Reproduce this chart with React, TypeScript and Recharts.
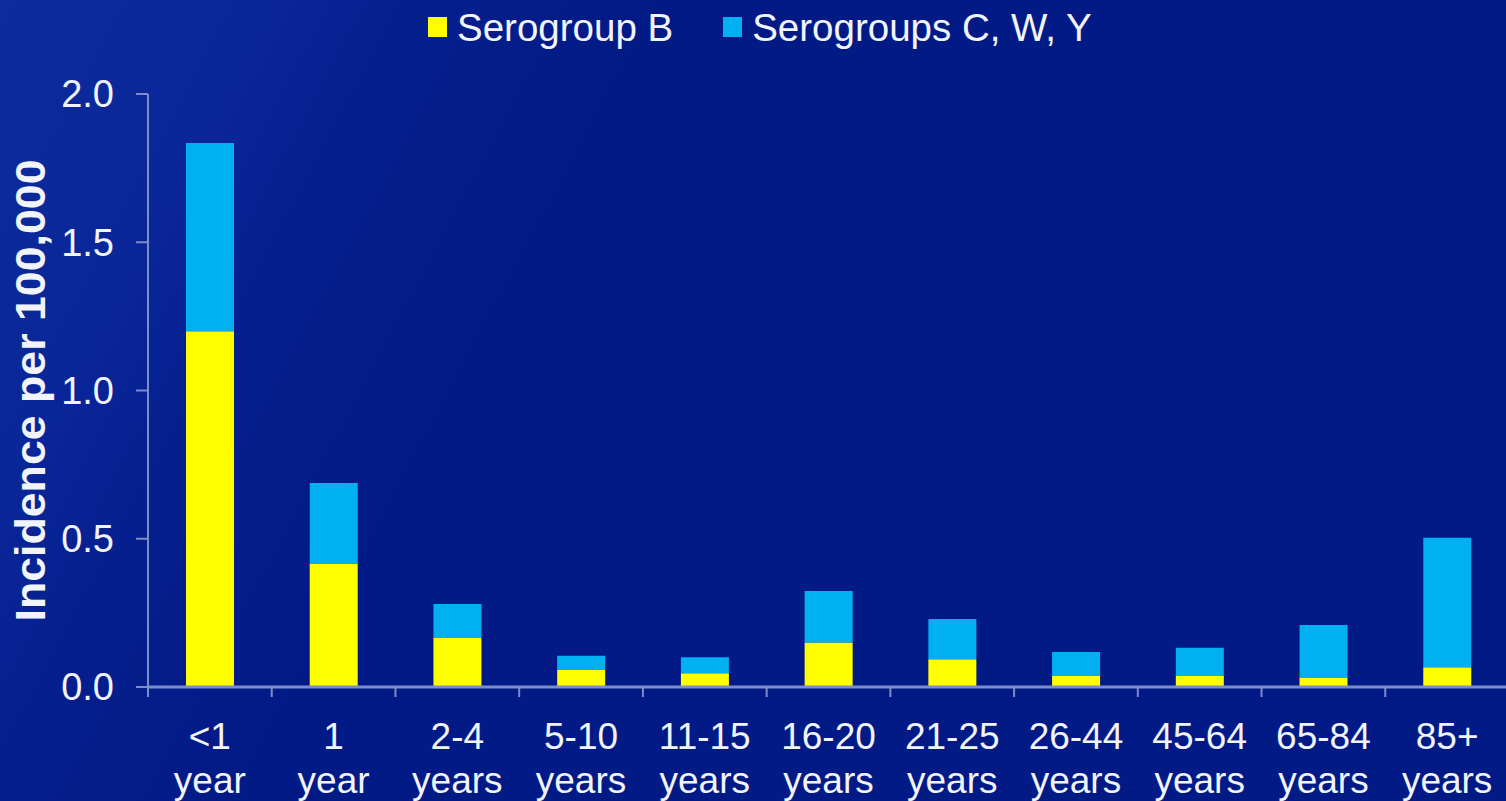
import { BarChart, Bar, XAxis, YAxis } from "recharts";

// age groups, split into the two label lines under each bar
const ageRanges = ["<1", "1", "2-4", "5-10", "11-15", "16-20", "21-25", "26-44", "45-64", "65-84", "85+"];
const ageUnits = ["year", "year", "years", "years", "years", "years", "years", "years", "years", "years", "years"];

// incidence per 100,000
const serogroupB = [1.2, 0.415, 0.165, 0.057, 0.046, 0.15, 0.094, 0.037, 0.037, 0.03, 0.067];
const serogroupsCWY = [0.635, 0.273, 0.115, 0.048, 0.054, 0.174, 0.135, 0.081, 0.095, 0.179, 0.436];

const yTicks = [0, 0.5, 1, 1.5, 2];

const seriesNames = ["Serogroup B", "Serogroups C, W, Y"];
const seriesColors = ["#FFFF00", "#00B0F0"];

const data = ageRanges.map((range, i) => ({
  range,
  b: serogroupB[i],
  cwy: serogroupsCWY[i],
}));

const CHART_W = 1520;
const CHART_H = 801;
const MARGIN = { top: 94, right: 11, bottom: 0, left: 0 };
const Y_AXIS_W = 148;
const X_AXIS_H = 114;
const STEP = (CHART_W - MARGIN.left - MARGIN.right - Y_AXIS_W) / ageRanges.length;

const FONT = '"Liberation Sans", Arial, sans-serif';
const TEXT = "#f2f4fb";
const AXIS = "#7d8dc8";

function AgeTick(props: any) {
  const { x, y, payload } = props;
  const i = payload.index ?? props.index;
  const left = x - STEP / 2;
  const right = x + STEP / 2;
  return (
    <g>
      <line x1={left} x2={left} y1={y} y2={y + 10} stroke={AXIS} strokeWidth={2} />
      {i === ageRanges.length - 1 && (
        <line x1={right} x2={right} y1={y} y2={y + 10} stroke={AXIS} strokeWidth={2} />
      )}
      <text x={x} y={y + 62} textAnchor="middle" fill={TEXT} fontSize={37} fontFamily={FONT}>
        {payload.value}
      </text>
      <text x={x} y={y + 106} textAnchor="middle" fill={TEXT} fontSize={37} fontFamily={FONT}>
        {ageUnits[i]}
      </text>
    </g>
  );
}

function YTitle(props: any) {
  const vb = props.viewBox;
  const cx = vb.x + 45;
  const cy = vb.y + vb.height / 2;
  return (
    <text
      x={cx}
      y={cy}
      transform={`rotate(-90, ${cx}, ${cy})`}
      textAnchor="middle"
      fill={TEXT}
      fontSize={42}
      fontWeight="bold"
      fontFamily={FONT}
      textLength={462}
      lengthAdjust="spacingAndGlyphs"
    >
      Incidence per 100,000
    </text>
  );
}

export default function App() {
  return (
    <div
      style={{
        position: "absolute",
        left: 0,
        top: 0,
        width: 1506,
        height: 801,
        overflow: "hidden",
        fontFamily: FONT,
        background:
          "linear-gradient(118deg, #0c2b9c 0%, #0a279a 13%, #051f8e 21%, #021a86 34%, #011a86 100%)",
      }}
    >
      <div
        style={{
          position: "absolute",
          top: 9,
          left: 428,
          display: "flex",
          alignItems: "flex-start",
          color: TEXT,
          fontSize: 38.5,
          lineHeight: 1,
          whiteSpace: "nowrap",
        }}
      >
        {seriesNames.map((name, i) => (
          <div key={name} style={{ display: "flex", alignItems: "flex-start", marginRight: 50 }}>
            <span
              style={{
                display: "inline-block",
                width: 19,
                height: 20,
                marginTop: 8,
                marginRight: 10,
                background: seriesColors[i],
              }}
            />
            <span>{name}</span>
          </div>
        ))}
      </div>

      <BarChart width={CHART_W} height={CHART_H} data={data} margin={MARGIN}>
        <XAxis
          dataKey="range"
          height={X_AXIS_H}
          interval={0}
          tickLine={false}
          tickSize={0}
          tickMargin={0}
          axisLine={{ stroke: AXIS, strokeWidth: 3 }}
          tick={<AgeTick />}
        />
        <YAxis
          width={Y_AXIS_W}
          domain={[0, 2]}
          ticks={yTicks}
          interval={0}
          tickFormatter={(v: number) => v.toFixed(1)}
          tick={{ fill: TEXT, fontSize: 38, fontFamily: FONT }}
          tickSize={12}
          tickMargin={22}
          tickLine={{ stroke: AXIS, strokeWidth: 2 }}
          axisLine={{ stroke: AXIS, strokeWidth: 2 }}
          label={YTitle}
        />
        <Bar dataKey="b" name={seriesNames[0]} stackId="s" fill={seriesColors[0]} barSize={48} isAnimationActive={false} />
        <Bar dataKey="cwy" name={seriesNames[1]} stackId="s" fill={seriesColors[1]} barSize={48} isAnimationActive={false} />
      </BarChart>
    </div>
  );
}
